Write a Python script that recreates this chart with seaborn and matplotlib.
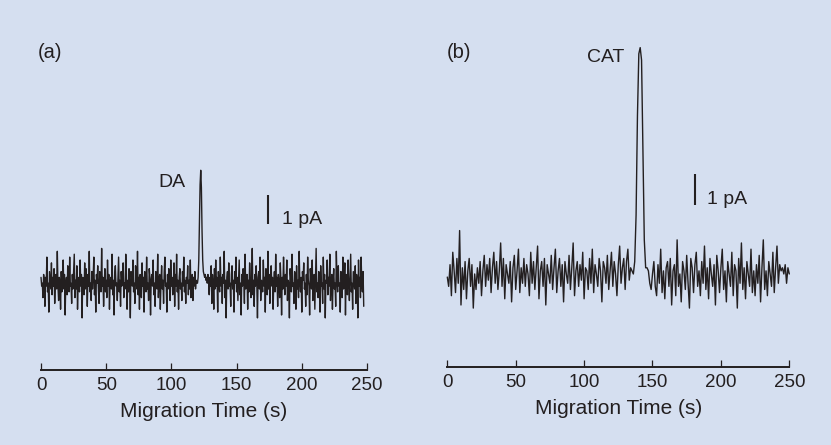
import numpy as np
import pandas as pd
import matplotlib
matplotlib.use("Agg")
import matplotlib.pyplot as plt
import seaborn as sns

# current traces (tenths of pA)
# panel (a): 0.5 s per sample, starts at t = 0
trace_a = [
    2, -1, 0, -5, 3, 1, -8, 2, -1, 9, -3, 0, -10, 4, 1, -2, 7, -4, 2, -1,
    5, -7, 0, 3, -2, 11, -1, -6, 2, 0, -9, 4, -3, 1, 8, -2, 3, -11, 0, 2,
    -4, 6, 1, -3, 9, -1, 0, -7, 3, -2, 4, 10, -5, 1, -2, 6, -9, 0, 2, -3,
    8, -1, 3, -12, 2, 0, -4, 7, -2, 5, 1, -8, 3, -1, 11, -3, 0, -6, 4, -2,
    2, 9, -4, 1, -10, 3, 0, 6, -2, -7, 4, 1, -3, 12, -1, 2, -8, 0, 5, -3,
    1, -5, 8, -1, 3, -9, 0, 2, -2, 10, -4, 1, -11, 3, 6, -1, 0, -6, 2, 9,
    -3, 1, -8, 4, -1, 2, 7, -5, 0, -2, 10, 3, -9, 1, -3, 5, 0, -12, 4, 2,
    -1, 8, -3, 0, -7, 6, 1, -2, 11, -4, 2, -9, 3, 0, -5, 7, -1, 2, -10, 4,
    1, -3, 9, -2, 0, -6, 5, 2, -11, 1, 3, -1, 8, -4, 0, -8, 4, 2, -2, 10,
    -5, 1, 3, -9, 0, 6, -2, 1, -7, 4, 9, -1, 0, -10, 3, -2, 5, 1, -6, 8,
    -1, 2, -4, 0, 7, -8, 3, -1, 10, -3, 1, -9, 2, 5, -2, 0, -6, 4, -1, 9,
    -3, 1, -7, 2, 0, 6, -4, 1, -2, 8, -5, 0, 3, -6, 2, -1, 4, -2, 1, 0,
    # DA peak
    0, 2, 8, 20, 34, 39, 33, 18, 8, 4, 3, 2, 3, 1,
    2, 0, 3, 1, -4, 2, -1, 6, -7, 3, 0, -9, 5, -2, 8, -1, 2, -10, 4, 0,
    -3, 9, -1, 2, -7, 3, 0, 11, -5, 1, -12, 2, 4, -2, 7, -1, 0, -8, 3, 6,
    -2, 1, -10, 4, 0, 9, -3, 2, -6, 1, 8, -4, 0, -11, 3, -1, 5, 2, -7, 10,
    -2, 0, 3, -9, 1, -3, 7, 2, -5, 0, 12, -4, 1, -8, 3, -1, 6, 0, -12, 2,
    4, -2, 9, -6, 1, 0, -3, 8, -1, 2, -10, 5, 0, -4, 11, -2, 3, -7, 1, 6,
    -1, 2, -9, 0, 4, -3, 10, -1, 2, -8, 3, 0, -5, 7, 1, -11, 2, -2, 9, 0,
    -4, 3, -1, 8, -6, 1, 0, -12, 5, 2, -3, 10, -1, 0, -7, 4, 2, -9, 6, -2,
    1, -5, 11, 0, -3, 2, -10, 4, 1, 7, -2, 0, -8, 3, -4, 9, 1, -1, -11, 5,
    2, -2, 8, -6, 0, 3, -9, 1, 12, -3, 0, -5, 4, 2, -10, 6, -1, 0, -7, 9,
    -2, 3, -12, 1, 0, 8, -4, 2, -1, 10, -6, 0, 3, -9, 1, 5, -2, 0, -8, 11,
    1, -3, 6, -1, 0, -10, 4, 2, -5, 9, -2, 0, 7, -11, 3, 1, -4, 8, 0, -6,
    2, 10, -3, 0, -9, 4, 1, -2, 6, -7, 3, 0, -12, 8, -1, 2, -5, 9, 0, -3,
    4, -8,
]
step_a = 0.5

# panel (b): 1 s per sample, starts at t = 0
trace_b = [
    0, -3, 4, -6, 8, 2, -5, 6, -2, 15, -9, 3, -4, 5, -7, 2, 6, -3, 4, -10,
    1, -4, 3, -2, 5, -6, 2, 7, -3, 4, -1, 6, -5, 3, 8, -2, 5, -4, 2, 11,
    -3, 6, -7, 4, 1, -2, 5, -8, 3, 7, -4, 2, 9, -5, 3, -2, 6, -3, 4, 1,
    -6, 8, -2, 5, -4, 3, 10, -7, 2, 5, -3, 6, -9, 4, 1, -2, 7, -4, 3, 9,
    -5, 2, 6, -3, 4, -8, 5, 1, -2, 7, -4, 3, 11, -6, 2, 5, -3, 4, -1, 8,
    -7, 3, 2, -4, 6, -2, 9, -5, 4, 1, -3, 6, 2, -8, 5, 3, -2, 7, -4, 2,
    8, -3, 5, 1, -6, 4, 10, -2, 3, 6, -4, 5, 9, -1, 3, 2, 1,
    # CAT peak
    5, 20, 52, 72, 74, 70, 40, 12, 3,
    3, 2, -2, -4, 1, 5, -3, -6, 4, -2, 9, -5, 2, -7, 3, 5, -3, 6, -9, 2,
    4, -6, 12, -3, 1, -8, 5, 2, -4, 7, -2, -10, 6, 3, -5, 4, 8, -3, 2, -6,
    5, -2, 10, -4, 3, -7, 6, 1, -3, 4, -9, 7, 2, -5, 3, 9, -4, 2, -8, 5,
    1, -3, 8, -6, 4, 2, -10, 6, -2, 11, -4, 3, -7, 5, 1, -3, 9, -5, 2, -6,
    4, -2, 7, -8, 3, 12, -4, 2, -6, 5, 1, -3, 8, -5, 3, 10, -2, 4, 2, 3,
    1, 4, -2, 3, 1,
]
step_b = 1.0

xticks = [0, 50, 100, 150, 200, 250]
panel_labels = ["(a)", "(b)"]
peak_names = ["DA", "CAT"]

bg = "#d5dff0"
ink = "#231f20"

sns.set_theme(style="ticks")
plt.rcParams["font.family"] = ["Liberation Sans", "DejaVu Sans"]

fig = plt.figure(figsize=(8.31, 4.45), dpi=100, facecolor=bg)
W, H = 831, 445


def px_axes(left, top, right, bottom):
    return fig.add_axes([left / W, 1 - bottom / H, (right - left) / W, (bottom - top) / H])


panels = [
    dict(box=(37.1, 150, 370.9, 370), ylim=(-3.0, 4.6), data=trace_a, step=step_a,
         bar_x=174.3, bar_y=(2.03, 3.05), pa_pos=(185, 2.03), peak_pos=(100.2, 3.32),
         tag_x=38),
    dict(box=(443.2, 38.3, 793.4, 367), ylim=(-2.9, 7.7), data=trace_b, step=step_b,
         bar_x=181.1, bar_y=(2.32, 3.32), pa_pos=(189.6, 2.35), peak_pos=(115.9, 6.93),
         tag_x=447),
]

for i, p in enumerate(panels):
    ax = px_axes(*p["box"])
    ax.set_facecolor(bg)
    df = pd.DataFrame({
        "t": np.arange(len(p["data"])) * p["step"],
        "i": np.array(p["data"]) / 10.0,
    })
    sns.lineplot(data=df, x="t", y="i", ax=ax, color=ink, linewidth=1.0,
                 estimator=None, sort=False)
    ax.set_xlim(-3, 253)
    ax.set_ylim(*p["ylim"])

    # 1 pA scale bar
    ax.plot([p["bar_x"], p["bar_x"]], p["bar_y"], color=ink, linewidth=1.5,
            solid_capstyle="butt")
    ax.text(p["pa_pos"][0], p["pa_pos"][1], "1 pA", fontsize=14, color=ink,
            ha="left", va="baseline")
    ax.text(p["peak_pos"][0], p["peak_pos"][1], peak_names[i], fontsize=14,
            color=ink, ha="center", va="baseline")

    for s in ["left", "top", "right"]:
        ax.spines[s].set_visible(False)
    ax.spines["bottom"].set_bounds(0, 250)
    ax.spines["bottom"].set_linewidth(1.4)
    ax.spines["bottom"].set_color(ink)
    ax.set_yticks([])
    ax.set_xticks(xticks)
    ax.set_xticklabels([str(v) for v in xticks])
    ax.tick_params(axis="x", direction="in", length=5, width=0.9, colors=ink,
                   labelsize=13.5, pad=5)
    ax.set_xlabel("Migration Time (s)", fontsize=15, color=ink, labelpad=6)
    ax.set_ylabel("")

    fig.text(p["tag_x"] / W, 1 - 58 / H, panel_labels[i], fontsize=14.5,
             color=ink, ha="left", va="baseline")

fig.savefig("out.png", dpi=100, facecolor=bg)
